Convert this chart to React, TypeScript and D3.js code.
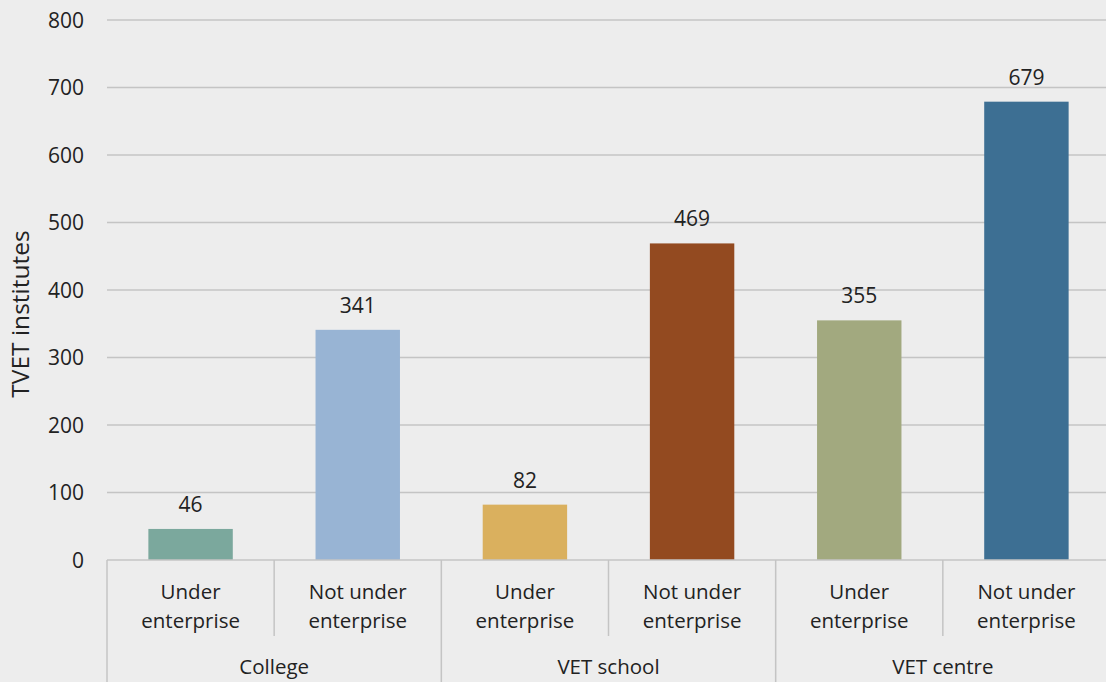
import React from "react";
import * as d3 from "d3";

const groups = ["College", "VET school", "VET centre"];
const items = ["Under enterprise", "Not under enterprise"];
const itemLines = [["Under", "enterprise"], ["Not under", "enterprise"]];
const values = [46, 341, 82, 469, 355, 679];
const colors = ["#7ba89d", "#98b4d4", "#dab05e", "#934a20", "#a2a97f", "#3d6f93"];
const yTicks = [0, 100, 200, 300, 400, 500, 600, 700, 800];

const W = 1106, H = 682;
const L = 107, R = 1110, T = 20, B = 560;
const FONT = "'Open Sans', sans-serif";
const FS = 20.5;

export default function App() {
  const keys = values.map((_, i) => `${i}`);
  const x = d3.scaleBand().domain(keys).range([L, R]).paddingInner(0.495).paddingOuter(0.2475);
  const step = (R - L) / values.length;
  const y = d3.scaleLinear().domain([0, 800]).range([B, T]);
  return (
    <svg width={W} height={H} style={{ position: "absolute", left: 0, top: 0, display: "block" }}>
      <rect x={0} y={0} width={W} height={H} fill="#ededed" />
      {yTicks.map((t) => (
        <g key={t}>
          {t > 0 && <line x1={L} x2={R} y1={y(t)} y2={y(t)} stroke="#c4c4c4" strokeWidth={1.5} />}
          <text x={84} y={y(t)} dy="0.36em" textAnchor="end" fontFamily={FONT} fontSize={21} fill="#222">{t}</text>
        </g>
      ))}
      {values.map((v, i) => (
        <g key={i}>
          <rect x={x(`${i}`)} y={y(v)} width={x.bandwidth()} height={B - y(v)} fill={colors[i]} />
          <text x={x(`${i}`)! + x.bandwidth() / 2} y={y(v) - 17} textAnchor="middle" fontFamily={FONT} fontSize={21} fill="#222">{v}</text>
          {itemLines[i % 2].map((ln, j) => (
            <text key={j} x={L + step * (i + 0.5)} y={599 + j * 28.5} textAnchor="middle" fontFamily={FONT} fontSize={FS} fill="#222">{ln}</text>
          ))}
        </g>
      ))}
      <line x1={L} x2={R} y1={B} y2={B} stroke="#c4c4c4" strokeWidth={1.5} />
      {d3.range(values.length + 1).map((k) => (
        <line key={k} x1={L + step * k} x2={L + step * k} y1={B} y2={k % 2 === 0 ? H : 636} stroke="#c4c4c4" strokeWidth={1.5} />
      ))}
      {groups.map((g, gi) => (
        <text key={g} x={L + step * (gi * 2 + 1)} y={674} textAnchor="middle" fontFamily={FONT} fontSize={FS} fill="#222">{g}</text>
      ))}
      <text transform={`translate(29,314) rotate(-90)`} textAnchor="middle" fontFamily={FONT} fontSize={24.5} fill="#222">TVET institutes</text>
    </svg>
  );
}
